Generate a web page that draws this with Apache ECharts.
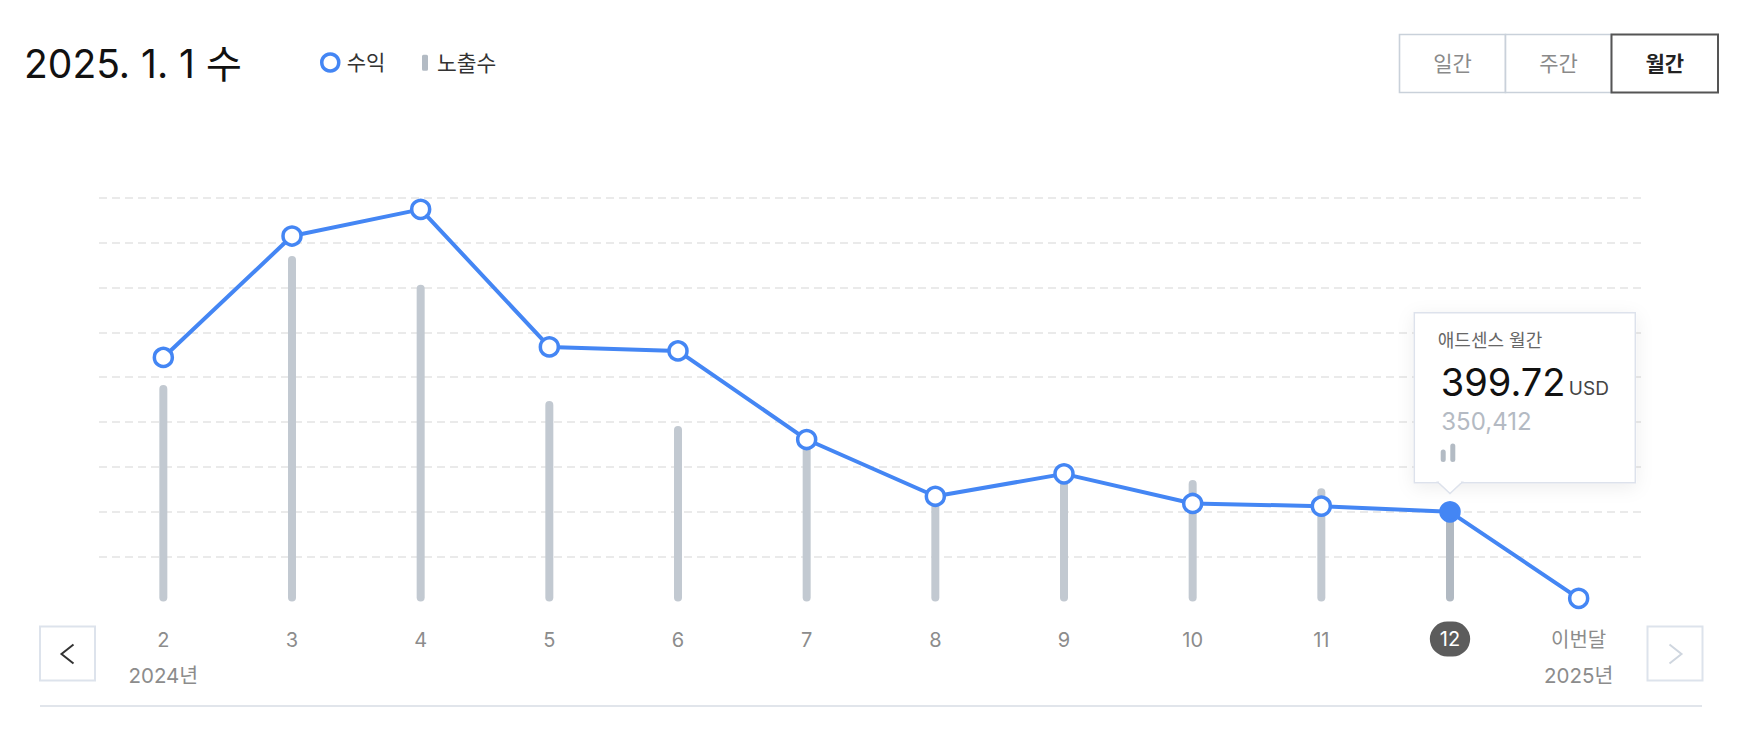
<!DOCTYPE html>
<html><head><meta charset="utf-8">
<script src="https://cdn.jsdelivr.net/npm/echarts@6/dist/echarts.min.js"></script>
<style>html,body{margin:0;padding:0;background:#fff;} #c{width:1748px;height:754px;}</style>
</head><body><div id="c"></div>
<script>
// ---- data ----
const categories = ['2', '3', '4', '5', '6', '7', '8', '9', '10', '11', '12', '이번달'];
const yearLabels = ['2024년', '', '', '', '', '', '', '', '', '', '', '2025년'];
const revenue = [1088, 1629, 1748, 1135, 1117, 722, 469, 569, 437, 425, 399.72, 14];
const impressions = [804300, 1283500, 1176900, 744900, 652000, 581000, 377000, 459000, 451400, 420500, 350412, 12000];
const revenueAxis = { min: 0, max: 1800, interval: 200 };
const impressionAxis = { min: 0, max: 1500000 };
const highlightIndex = 10;
const titleText = '2025. 1. 1 수';
const seriesNames = ['수익', '노출수'];
const periodButtons = ['일간', '주간', '월간'];
const activeButton = 2;
const tooltipTitle = '애드센스 월간';
const currency = 'USD';

// ---- style ----
const FONT = "Inter, 'Noto Sans CJK KR', sans-serif";
const BLUE = '#4486f4';
const BAR = '#c2c9d1';
const BAR_HI = '#b1b9c2';

const chart = echarts.init(document.getElementById('c'), null, { renderer: 'svg' });

const option = {
  animation: false,
  backgroundColor: '#fff',
  textStyle: { fontFamily: FONT },
  title: {
    text: titleText, left: 24, top: 44, padding: 0,
    textStyle: { fontSize: 39, fontWeight: 'normal', color: '#111', fontFamily: FONT }
  },
  legend: [
    {
      left: 320, top: 52, padding: 0, itemWidth: 17, itemHeight: 17, selectedMode: false,
      data: [{ name: seriesNames[0], icon: 'circle', itemStyle: { color: '#fff', borderColor: BLUE, borderWidth: 3.5 } }],
      textStyle: { fontSize: 21, color: '#333', fontFamily: FONT, padding: [0, 0, 0, 3] }
    },
    {
      left: 422, top: 52, padding: 0, itemWidth: 6, itemHeight: 16, selectedMode: false,
      data: [{ name: seriesNames[1], icon: 'roundRect', itemStyle: { color: '#b3bbc4' } }],
      textStyle: { fontSize: 21.5, color: '#333', fontFamily: FONT, padding: [0, 0, 0, 4] }
    }
  ],
  grid: { left: 99, right: 105, top: 197.7, bottom: 152.5, containLabel: false },
  xAxis: {
    type: 'category', data: categories, boundaryGap: true,
    axisLine: { show: false }, axisTick: { show: false },
    axisLabel: {
      interval: 0, margin: 20, fontSize: 20, lineHeight: 36, color: '#8c8c8c', fontFamily: FONT,
      formatter: (v, i) => {
        if (i === highlightIndex) return '{pill|' + v + '}';
        if (yearLabels[i]) return v + '\n{yr|' + yearLabels[i] + '}';
        return v;
      },
      rich: {
        yr: { fontSize: 20.5, lineHeight: 36, color: '#8c8c8c', fontFamily: FONT },
        pill: { fontSize: 20, height: 35, lineHeight: 35, color: '#fff', backgroundColor: '#5c5c5c', borderRadius: 17.5, padding: [0, 10], fontFamily: FONT }
      }
    }
  },
  yAxis: [
    {
      type: 'value', min: revenueAxis.min, max: revenueAxis.max, interval: revenueAxis.interval,
      axisLine: { show: false }, axisTick: { show: false }, axisLabel: { show: false },
      splitLine: { show: true, showMinLine: false, lineStyle: { type: [8, 5], color: '#e3e3e3', width: 1.5 } }
    },
    {
      type: 'value', min: impressionAxis.min, max: impressionAxis.max,
      axisLine: { show: false }, axisTick: { show: false }, axisLabel: { show: false }, splitLine: { show: false }
    }
  ],
  series: [
    {
      name: seriesNames[1], type: 'bar', yAxisIndex: 1, barWidth: 8, silent: true, z: 1,
      itemStyle: { color: BAR, borderRadius: 4 },
      data: impressions.map((v, i) => i === highlightIndex ? { value: v, itemStyle: { color: BAR_HI } } : v)
    },
    {
      name: seriesNames[0], type: 'line', yAxisIndex: 0, z: 3, silent: true,
      symbol: 'circle', symbolSize: 18, showAllSymbol: true,
      lineStyle: { color: BLUE, width: 4 },
      itemStyle: { color: '#fff', borderColor: BLUE, borderWidth: 3.5 },
      data: revenue.map((v, i) => i === highlightIndex ? { value: v, itemStyle: { color: BLUE, borderColor: BLUE } } : v)
    }
  ]
};
chart.setOption(option);

// ---- UI chrome + tooltip annotation ----
const pt = chart.convertToPixel({ xAxisIndex: 0, yAxisIndex: 0 }, [highlightIndex, revenue[highlightIndex]]);
const g = [];
const bx = [1399.5, 1505.5, 1611.5, 1718];
periodButtons.forEach((t, i) => {
  const active = i === activeButton;
  g.push({
    type: 'rect', id: 'btn' + i, z: active ? 11 : 10,
    shape: { x: bx[i], y: 34.5, width: bx[i + 1] - bx[i], height: 58 },
    style: { fill: '#fff', stroke: active ? '#555' : '#c9d1da', lineWidth: active ? 2 : 1.6 }
  });
  g.push({
    type: 'text', id: 'btnt' + i, z: 12,
    x: (bx[i] + bx[i + 1]) / 2, y: 63.5,
    style: { text: t, fill: active ? '#222' : '#8a8a8a', fontSize: 21, fontWeight: active ? 'bold' : 'normal', fontFamily: FONT, align: 'center', verticalAlign: 'middle' }
  });
});
g.push({ type: 'rect', id: 'prev', shape: { x: 40, y: 626.5, width: 55, height: 54 }, style: { fill: '#fff', stroke: '#dde3ec', lineWidth: 2 } });
g.push({ type: 'polyline', id: 'prevc', shape: { points: [[73.5, 644.5], [61.5, 654], [73.5, 663.5]] }, style: { stroke: '#333', lineWidth: 2, fill: null } });
g.push({ type: 'rect', id: 'next', shape: { x: 1647.5, y: 626.5, width: 55, height: 54 }, style: { fill: '#fff', stroke: '#dde3ec', lineWidth: 2 } });
g.push({ type: 'polyline', id: 'nextc', shape: { points: [[1669.5, 644.5], [1681.5, 654], [1669.5, 663.5]] }, style: { stroke: '#cfd6df', lineWidth: 2, fill: null } });
g.push({ type: 'line', id: 'rule', shape: { x1: 40, y1: 706, x2: 1702, y2: 706 }, style: { stroke: '#e1e5eb', lineWidth: 2 } });

const tx = pt[0] - 35.7, ty = pt[1] - 199;
const tw = 221, th = 170;
g.push({
  type: 'group', id: 'tip', x: tx, y: ty, z: 50,
  children: [
    { type: 'rect', shape: { x: 0, y: 0, width: tw, height: th }, style: { fill: '#fff', stroke: '#dde2ec', lineWidth: 1.5, shadowBlur: 18, shadowColor: 'rgba(0,0,0,0.07)', shadowOffsetY: 4 } },
    { type: 'polygon', shape: { points: [[23.7, th - 0.5], [47.7, th - 0.5], [35.7, th + 10.6]] }, style: { fill: '#fff', stroke: '#dde2ec', lineWidth: 1.5 } },
    { type: 'rect', shape: { x: 24.8, y: th - 2.2, width: 21.8, height: 2.4 }, style: { fill: '#fff' } },
    { type: 'text', x: 23.5, y: 28, style: { text: tooltipTitle, fill: '#666', fontSize: 18, fontFamily: FONT, verticalAlign: 'middle' } },
    { type: 'text', x: 26.5, y: 69.5, style: { text: revenue[highlightIndex].toFixed(2), fill: '#111', fontSize: 38, fontFamily: FONT, verticalAlign: 'middle' } },
    { type: 'text', x: 154.5, y: 75.5, style: { text: currency, fill: '#444', fontSize: 19, fontFamily: FONT, verticalAlign: 'middle' } },
    { type: 'text', x: 27, y: 108.5, style: { text: impressions[highlightIndex].toLocaleString('en-US'), fill: '#b4bac3', fontSize: 24, fontFamily: FONT, verticalAlign: 'middle' } },
    { type: 'rect', shape: { x: 26.4, y: 136.6, width: 5, height: 12.5, r: 2.5 }, style: { fill: '#b3bbc4' } },
    { type: 'rect', shape: { x: 36, y: 130.6, width: 5, height: 18.5, r: 2.5 }, style: { fill: '#b3bbc4' } }
  ]
});
chart.setOption({ graphic: g });
</script>
</body></html>
